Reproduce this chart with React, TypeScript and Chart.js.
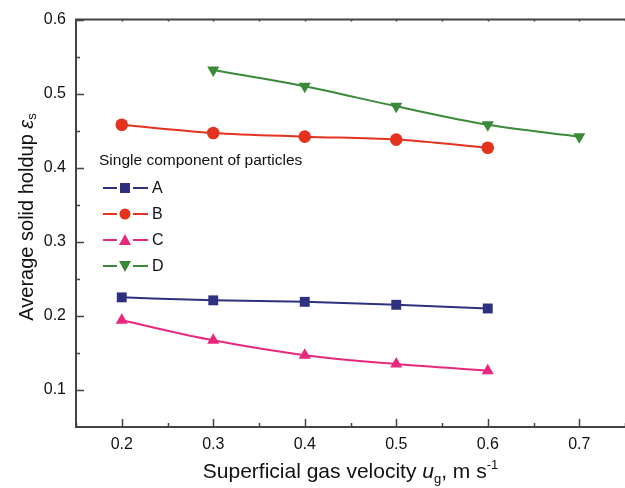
import React, { useEffect, useRef } from "react";
import { Chart, registerables } from "chart.js";

Chart.register(...registerables);

const velocityAB = [0.2, 0.3, 0.4, 0.5, 0.6];
const velocityD = [0.3, 0.4, 0.5, 0.6, 0.7];
const holdupA = [0.225, 0.221, 0.219, 0.215, 0.21];
const holdupB = [0.458, 0.447, 0.442, 0.438, 0.427];
const holdupC = [0.194, 0.167, 0.147, 0.135, 0.126];
const holdupD = [0.532, 0.51, 0.483, 0.458, 0.442];
const seriesNames = ["A", "B", "C", "D"];
const seriesColors = ["#2e3180", "#e5321f", "#e8287f", "#3a8a3a"];
const seriesMarkers = ["rect", "circle", "triangle", "triangle"];
const seriesRotation = [0, 0, 0, 180];
const xTicks = [0.2, 0.3, 0.4, 0.5, 0.6, 0.7];
const yTicks = [0.1, 0.2, 0.3, 0.4, 0.5, 0.6];
const xMinor = [0.15, 0.25, 0.35, 0.45, 0.55, 0.65, 0.75];
const yMinor = [0.15, 0.25, 0.35, 0.45, 0.55];
const legendTitle = "Single component of particles";

const FONT = "'Liberation Sans', Arial, sans-serif";
const AXIS_COLOR = "#444";

function toPoints(xs: number[], ys: number[]) {
  return xs.map((x, i) => ({ x, y: ys[i] }));
}

const customPlugin = {
  id: "custom",
  afterDraw(chart: any) {
    const ctx = chart.ctx as CanvasRenderingContext2D;
    const { left, right, top, bottom } = chart.chartArea;
    const xs = chart.scales.x;
    const ys = chart.scales.y;
    ctx.save();
    // top frame line
    ctx.strokeStyle = AXIS_COLOR;
    ctx.lineWidth = 2;
    ctx.beginPath();
    ctx.moveTo(left - 1, top);
    ctx.lineTo(right, top);
    ctx.stroke();
    // ticks
    ctx.lineWidth = 1.5;
    ctx.beginPath();
    xTicks.forEach((v) => {
      const px = Math.round(xs.getPixelForValue(v)) + 0.5;
      ctx.moveTo(px, bottom);
      ctx.lineTo(px, bottom - 8);
      ctx.moveTo(px, top);
      ctx.lineTo(px, top + 2);
    });
    xMinor.forEach((v) => {
      const px = Math.round(xs.getPixelForValue(v)) + 0.5;
      ctx.moveTo(px, bottom);
      ctx.lineTo(px, bottom - 4);
      ctx.moveTo(px, top);
      ctx.lineTo(px, top + 2);
    });
    yTicks.forEach((v) => {
      const py = Math.round(ys.getPixelForValue(v)) + 0.5;
      ctx.moveTo(left, py);
      ctx.lineTo(left + 8, py);
    });
    yMinor.forEach((v) => {
      const py = Math.round(ys.getPixelForValue(v)) + 0.5;
      ctx.moveTo(left, py);
      ctx.lineTo(left + 4, py);
    });
    ctx.stroke();

    // legend
    ctx.fillStyle = "#111";
    ctx.textBaseline = "middle";
    ctx.textAlign = "left";
    ctx.font = `15.5px ${FONT}`;
    ctx.fillText(legendTitle, 99, 161);
    const rowY = [188, 214, 240, 266];
    seriesNames.forEach((name, i) => {
      const y = rowY[i];
      ctx.strokeStyle = seriesColors[i];
      ctx.lineWidth = 2;
      ctx.beginPath();
      ctx.moveTo(103, y);
      ctx.lineTo(117, y);
      ctx.moveTo(133, y);
      ctx.lineTo(148, y);
      ctx.stroke();
      ctx.fillStyle = seriesColors[i];
      ctx.beginPath();
      if (seriesMarkers[i] === "rect") {
        ctx.rect(120, y - 5, 10, 10);
      } else if (seriesMarkers[i] === "circle") {
        ctx.arc(125, y, 5.5, 0, Math.PI * 2);
      } else if (seriesRotation[i] === 0) {
        ctx.moveTo(125, y - 6);
        ctx.lineTo(131, y + 5);
        ctx.lineTo(119, y + 5);
      } else {
        ctx.moveTo(125, y + 6);
        ctx.lineTo(131, y - 5);
        ctx.lineTo(119, y - 5);
      }
      ctx.fill();
      ctx.fillStyle = "#111";
      ctx.font = `16px ${FONT}`;
      ctx.fillText(name, 152, y + 1);
    });

    // x axis title
    ctx.fillStyle = "#111";
    ctx.textBaseline = "alphabetic";
    const small = `13px ${FONT}`;
    const xBig = `21px ${FONT}`;
    const xBigI = `italic 21px ${FONT}`;
    const xParts = [
      { t: "Superficial gas velocity ", f: xBig, dy: 0 },
      { t: "u", f: xBigI, dy: 0 },
      { t: "g", f: small, dy: 5 },
      { t: ", m s", f: xBig, dy: 0 },
      { t: "-1", f: small, dy: -9 },
    ];
    let total = 0;
    xParts.forEach((p) => {
      ctx.font = p.f;
      total += ctx.measureText(p.t).width;
    });
    let cx = (left + right) / 2 - total / 2;
    const baseY = 478;
    xParts.forEach((p) => {
      ctx.font = p.f;
      ctx.fillText(p.t, cx, baseY + p.dy);
      cx += ctx.measureText(p.t).width;
    });

    // y axis title
    const yBig = `20px ${FONT}`;
    const yBigI = `italic 20px ${FONT}`;
    const yParts = [
      { t: "Average solid holdup ", f: yBig, dy: 0 },
      { t: "ε", f: yBigI, dy: 0 },
      { t: "s", f: small, dy: 3 },
    ];
    total = 0;
    yParts.forEach((p) => {
      ctx.font = p.f;
      total += ctx.measureText(p.t).width;
    });
    ctx.translate(33, 217);
    ctx.rotate(-Math.PI / 2);
    let cy = -total / 2;
    yParts.forEach((p) => {
      ctx.font = p.f;
      ctx.fillText(p.t, cy, p.dy);
      cy += ctx.measureText(p.t).width;
    });
    ctx.restore();
  },
};

export default function App() {
  const ref = useRef<HTMLCanvasElement | null>(null);
  useEffect(() => {
    document.body.style.margin = "0";
    const ys = [holdupA, holdupB, holdupC, holdupD];
    const xsArr = [velocityAB, velocityAB, velocityAB, velocityD];
    const chart = new Chart(ref.current as HTMLCanvasElement, {
      type: "line",
      data: {
        datasets: seriesNames.map((name, i) => ({
          label: name,
          data: toPoints(xsArr[i], ys[i]),
          borderColor: seriesColors[i],
          backgroundColor: seriesColors[i],
          pointBackgroundColor: seriesColors[i],
          pointBorderColor: seriesColors[i],
          pointStyle: seriesMarkers[i] as any,
          rotation: seriesRotation[i],
          pointRadius: seriesMarkers[i] === "circle" ? 6.3 : 7,
          pointBorderWidth: 0,
          borderWidth: 2,
          cubicInterpolationMode: "monotone",
          fill: false,
          clip: false,
        })),
      },
      options: {
        animation: false,
        responsive: false,
        devicePixelRatio: 1,
        layout: { autoPadding: false, padding: { top: 17, right: 0, left: 0, bottom: 0 } },
        plugins: { legend: { display: false }, tooltip: { enabled: false } },
        scales: {
          x: {
            type: "linear",
            min: 0.15,
            max: 0.75,
            afterBuildTicks: (s: any) => {
              s.ticks = xTicks.map((v) => ({ value: v }));
            },
            afterFit: (s: any) => {
              s.height = 61;
              s.paddingLeft = 0;
              s.paddingRight = 0;
            },
            grid: { display: false, drawTicks: false },
            border: { display: true, color: AXIS_COLOR, width: 2 },
            ticks: {
              padding: 8,
              color: "#111",
              font: { family: FONT, size: 16 },
              callback: (v: any) => Number(v).toFixed(1),
            },
          },
          y: {
            type: "linear",
            min: 0.05,
            max: 0.6,
            afterBuildTicks: (s: any) => {
              s.ticks = yTicks.map((v) => ({ value: v }));
            },
            afterFit: (s: any) => {
              s.width = 76;
            },
            grid: { display: false, drawTicks: false },
            border: { display: true, color: AXIS_COLOR, width: 2 },
            ticks: {
              padding: 10,
              color: "#111",
              font: { family: FONT, size: 16 },
              callback: (v: any) => Number(v).toFixed(1),
            },
          },
        },
      },
      plugins: [customPlugin],
    } as any);
    return () => chart.destroy();
  }, []);
  return <canvas ref={ref} width={625} height={488} style={{ display: "block" }} />;
}
